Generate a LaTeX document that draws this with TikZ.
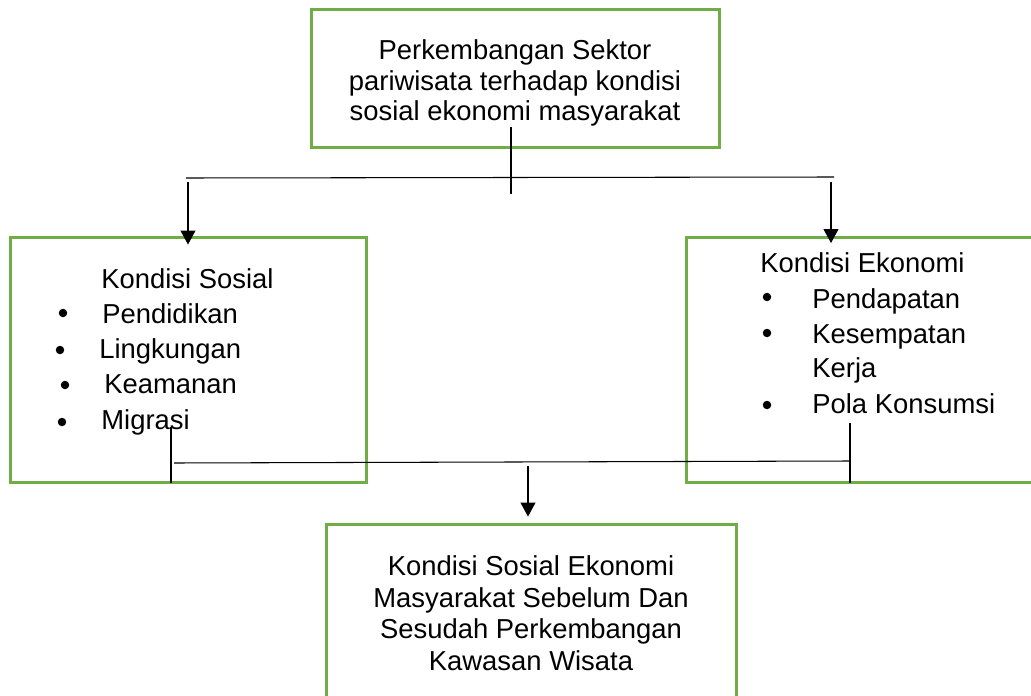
\documentclass[tikz,border=0pt]{standalone}
\usepackage{fontspec}
\setmainfont{Liberation Sans}
\usetikzlibrary{arrows.meta}
\definecolor{boxgreen}{RGB}{112,173,71}

\begin{document}
\begin{tikzpicture}[x=0.02cm, y=-0.02cm,
					greenbox/.style={rectangle, draw=boxgreen, line width=0.06cm, inner sep=0pt, outer sep=0pt},
					txt/.style={anchor=base, inner sep=0pt, font=\fontsize{15.6pt}{18pt}\selectfont},
					ltxt/.style={txt, anchor=base west},
					dot/.style={circle, fill=black, inner sep=0pt, minimum size=0.17cm},
					link/.style={line width=0.6pt},
					arr/.style={link, -{Triangle[width=0.3cm,length=0.28cm]}},
					]
					\useasboundingbox (0,0) rectangle (1031,696);
					\clip (0,0) rectangle (1031,696);
					%Boxes
					\node[greenbox, minimum width=8.18cm, minimum height=2.78cm] (sektor)  at (515.5,78.5) {};
					\node[greenbox, minimum width=7.14cm, minimum height=4.92cm] (sosial)  at (188.5,360)  {};
					\node[greenbox, minimum width=7.18cm, minimum height=4.92cm] (ekonomi) at (865.5,360)  {};
					\node[greenbox, minimum width=8.22cm, minimum height=3.76cm] (hasil)   at (531.5,618)  {};
					
					%Texts
					\node[txt] (s1) at (515,60)  {Perkembangan Sektor};
					\node[txt] (s2) at (515,91)  {pariwisata terhadap kondisi};
					\node[txt] (s3) at (515,121) {sosial ekonomi masyarakat};
					
					\node[ltxt] (so0) at (101,288) {Kondisi Sosial};
					\node[dot]  (sd1) at (63,313)  {};
					\node[ltxt] (so1) at (102,323) {Pendidikan};
					\node[dot]  (sd2) at (60,350)  {};
					\node[ltxt] (so2) at (99,358)  {Lingkungan};
					\node[dot]  (sd3) at (65,385)  {};
					\node[ltxt] (so3) at (104,393) {Keamanan};
					\node[dot]  (sd4) at (62,422)  {};
					\node[ltxt] (so4) at (101,429) {Migrasi};
					
					\node[ltxt] (ek0) at (760,272) {Kondisi Ekonomi};
					\node[dot]  (ed1) at (767,297) {};
					\node[ltxt] (ek1) at (812,308) {Pendapatan};
					\node[dot]  (ed2) at (767,333) {};
					\node[ltxt] (ek2) at (812,343) {Kesempatan};
					\node[ltxt] (ek3) at (812,377) {Kerja};
					\node[dot]  (ed3) at (767,405) {};
					\node[ltxt] (ek4) at (812,413) {Pola Konsumsi};
					
					\node[txt] (h1) at (531,575) {Kondisi Sosial Ekonomi};
					\node[txt] (h2) at (531,607) {Masyarakat Sebelum Dan};
					\node[txt] (h3) at (531,638) {Sesudah Perkembangan};
					\node[txt] (h4) at (531,670) {Kawasan Wisata};
					
					%Lines
					\coordinate (tdrop)  at (511,127);
					\coordinate (tend)   at (511,194);
					\coordinate (lsplit) at (186,178);
					\coordinate (rsplit) at (834,177);
					\coordinate (larr)   at (188,182);
					\coordinate (rarr)   at (831,182);
					\draw[link] (tdrop) -- (tend);
					\draw[link] (lsplit) -- (rsplit);
					\draw[arr, shorten >=-0.15cm] (larr) -- (larr |- sosial.north);
					\draw[arr, shorten >=-0.12cm] (rarr) -- (rarr |- ekonomi.north);
					
					\coordinate (lrise)  at (171,427);
					\coordinate (rrise)  at (850,423);
					\coordinate (ljoin)  at (174,463);
					\coordinate (rjoin)  at (850,461);
					\coordinate (barr)   at (528,466);
					\draw[link] (lrise) -- (lrise |- sosial.south);
					\draw[link] (rrise) -- (rrise |- ekonomi.south);
					\draw[link] (ljoin) -- (rjoin);
					\draw[arr, shorten >=0.15cm] (barr) -- (barr |- hasil.north);
				\end{tikzpicture}
\end{document}
